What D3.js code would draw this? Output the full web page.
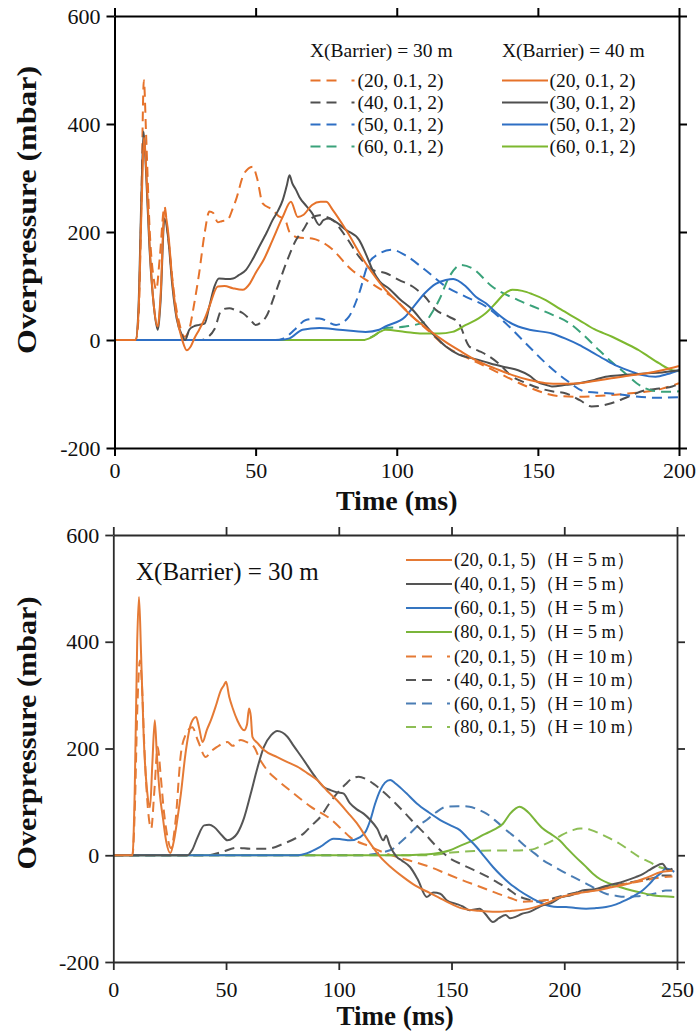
<!DOCTYPE html>
<html><head><meta charset="utf-8">
<script src="https://cdn.jsdelivr.net/npm/d3@7"></script>
<style>
body{margin:0;background:#fff}
svg{display:block}
text{font-family:"Liberation Serif","Times New Roman",serif;fill:#111}
</style>
</head><body>
<svg id="c" width="698" height="1035"></svg>
<script>
// ---------------- DATA ----------------
const yTicks = [-200, 0, 200, 400, 600];
const xTicksTop = [0, 50, 100, 150, 200];
const xTicksBot = [0, 50, 100, 150, 200, 250];
const yTitle = "Overpressure (mbar)";
const xTitle = "Time (ms)";

// Top panel: X(Barrier) = 30 m (dashed)
const top30_20 = [[0,0],[7.5,0],[8.5,40],[9.5,250],[10.4,481],[11.2,380],[12.5,200],[14,110],[14.8,93],[16,150],[17.7,247],[19,190],[21,90],[23,30],[24.8,6],[26.5,20],[28,60],[30,124],[32,200],[33.6,238],[35,235],[36.6,218],[38,220],[40,222],[42,245],[43,259],[46,309],[49,321],[50.5,300],[52.5,253],[56,241],[58,230],[60.5,222],[62,200],[65,190],[70,188],[76,173],[84,130],[91,105],[99.7,74],[105.6,43],[111,18],[117.4,-12],[123,-28],[129,-43],[135,-58],[141,-74],[147,-88],[152.8,-99],[158,-104],[164.6,-105],[170,-104],[176,-102],[182,-99],[188,-96],[194,-90],[200,-80]];
const top30_40 = [[0,0],[31,0],[33,5],[35.4,20],[38,56],[40.7,59],[43,55],[45.4,50],[48,38],[50,28],[52,33],[53.7,43],[57,87],[60.8,142],[64.3,185],[67,205],[69,222],[72.6,231],[75,228],[77.3,222],[82,191],[86.7,154],[91.4,130],[96,124],[100.9,111],[105.6,99],[110,80],[113.8,56],[118.6,43],[122,31],[125.7,-12],[129,-20],[132,-28],[136,-43],[141,-68],[145,-78],[150.4,-89],[155,-95],[160,-99],[165,-112],[169,-123],[172,-122],[176,-117],[182,-105],[188,-93],[193,-90],[197.6,-86],[200,-82]];
const top30_50 = [[0,0],[57,0],[60,3],[64,20],[67.8,37],[72.6,40],[78.5,28],[83,43],[86.7,87],[90,142],[93.8,160],[98.4,167],[103,157],[110,130],[117.4,99],[124.5,80],[131.6,62],[138.6,31],[145.7,-6],[152.8,-43],[160,-74],[167,-96],[176,-99],[185.8,-105],[192,-107],[200,-106]];
const top30_60 = [[0,0],[88,0],[92,8],[96,22],[103,25],[110,34],[113,55],[115,74],[118.6,117],[122.7,139],[126.7,133],[133.8,99],[143,74],[152.8,52],[162,28],[166,10],[171.7,-19],[176,-40],[181,-62],[185,-80],[190,-93],[195,-96],[200,-95]];
// Top panel: X(Barrier) = 40 m (solid)
const top40_20 = [[0,0],[7.5,0],[8.5,50],[9.5,230],[10.5,375],[11.3,310],[12.5,170],[14,60],[15.3,25],[16.3,80],[17.7,240],[19,200],[20.5,110],[22,45],[24,0],[25.6,-19],[27,-12],[28.5,5],[30,19],[32,40],[33.6,62],[36.6,99],[39,100],[41.9,96],[45.4,93],[48,105],[50,124],[53,150],[56,185],[59.6,228],[62.5,256],[64.9,228],[67,232],[70,250],[73,256],[75,256],[77.3,241],[82,204],[89,142],[96,93],[100,72],[105.6,43],[111,20],[117.4,-4],[123,-22],[129,-40],[135,-53],[141,-65],[147,-74],[152.8,-80],[158,-81],[164.6,-80],[170,-76],[176,-71],[182,-66],[188,-62],[194,-56],[200,-48]];
const top40_30 = [[0,0],[7.5,0],[8.5,60],[9.5,260],[10.3,386],[11.1,320],[12.3,180],[14,60],[15.3,19],[16.3,70],[17.7,225],[19,190],[20.5,100],[22,40],[24,8],[25,0],[26.5,19],[28,25],[30,28],[32,31],[33.5,60],[35.4,99],[37,114],[40,113],[42,114],[44,120],[46.6,130],[49,150],[51.3,173],[54,200],[56,222],[58,240],[59.6,259],[61,285],[62,305],[63,290],[64.3,278],[65.5,265],[68,248],[70,235],[72.6,213],[74,222],[76,225],[78,220],[82,204],[86.7,185],[89,160],[91.4,130],[94,108],[97.3,95],[101,76],[105.6,56],[109,35],[112.7,12],[117.4,-12],[122,-27],[126.8,-34],[131,-40],[135,-46],[139,-51],[143,-56],[147,-66],[150,-78],[152.8,-83],[155,-86],[160,-83],[164.6,-80],[170,-74],[174,-68],[180,-65],[188,-62],[194,-60],[200,-56]];
const top40_50 = [[0,0],[58,0],[62,3],[66.6,19],[72.6,22],[79.6,19],[89,15],[93.8,19],[96,25],[103,43],[106,62],[110,87],[113.8,104],[117.4,111],[120,113],[124.5,99],[128,80],[131.6,68],[135,52],[138.6,37],[143,25],[147,19],[155,12],[160,2],[164.6,-9],[169,-22],[174,-37],[178,-48],[183.4,-59],[187,-65],[191.7,-68],[196,-63],[200,-56]];
const top40_60 = [[0,0],[88,0],[91,5],[94,15],[96,19],[103,15],[109,12],[115,12],[119.7,15],[124.5,28],[129,40],[131.6,50],[135,68],[138,85],[141,93],[144.5,91],[148,85],[152.8,74],[158,57],[164.6,37],[170,20],[176.3,6],[181,-6],[185.8,-19],[189,-30],[192.9,-43],[197.6,-56],[200,-58]];

// Bottom panel: H = 5 m (solid), H = 10 m (dashed)
const bot5_20 = [[0,0],[8.5,0],[9.5,120],[10.6,400],[11.4,484],[12.3,380],[13.5,220],[15,120],[16.3,90],[17.3,170],[18.4,253],[19.3,190],[20.5,120],[22,70],[23.5,25],[25.3,4],[27,30],[28.5,70],[30,116],[32,190],[34.5,247],[36.7,259],[38,240],[39.6,212],[41.5,235],[43.3,253],[45.5,280],[47.7,309],[49,318],[50,325],[51.4,297],[53,275],[55,253],[58,234],[59.3,245],[60.2,275],[61,260],[61.7,222],[64,210],[66.8,197],[72.7,184],[77,175],[81.6,166],[86,154],[90.4,141],[95,120],[99.2,103],[104,80],[108,60],[113,28],[118.4,-3],[123,-22],[128.6,-41],[134,-57],[140.5,-71],[147,-85],[155,-100],[162,-104],[170,-106],[177,-104],[184.6,-100],[192,-90],[199,-78],[206,-71],[214,-66],[221,-60],[228.8,-53],[236,-43],[243.4,-31],[248,-29]];
const bot5_40 = [[0,0],[33,0],[35,10],[37.4,34],[40.3,56],[42.5,57],[44.7,53],[48,38],[50.6,28],[53,32],[55,41],[58,70],[61,116],[64,165],[66.8,203],[70,225],[72.7,233],[75,230],[77.2,222],[80,205],[84.5,178],[89,150],[93.3,128],[96.3,122],[99,118],[102,116],[105,97],[108,86],[111,78],[114,66],[117,50],[119.8,28],[121,37],[122.5,20],[125.7,-3],[128,-10],[131.6,-22],[135,-45],[139,-78],[142,-70],[145,-72],[148,-85],[152,-91],[155,-96],[158,-103],[162.5,-100],[165,-110],[168.4,-125],[171,-118],[174,-112],[176,-118],[178.6,-115],[181,-110],[184.6,-106],[187.5,-100],[190.5,-94],[194,-90],[199,-78],[203,-75],[208,-66],[214,-63],[218,-58],[223,-53],[227,-48],[231.7,-41],[235,-35],[237.6,-28],[240,-22],[243.5,-16],[246,-28],[248,-25]];
const bot5_60 = [[0,0],[82,0],[86,4],[91.9,16],[97.7,31],[101,30],[105,28],[109.5,34],[112,45],[114,66],[116,95],[118.4,122],[120.5,136],[122.8,141],[125,135],[127,128],[130,116],[134.6,97],[140,80],[145,66],[150,55],[153.7,47],[157,33],[161,16],[164.5,-2],[168.4,-22],[172,-38],[175.8,-53],[180,-66],[184.6,-78],[189,-88],[193.5,-95],[197,-97],[200.8,-97],[205,-99],[209.7,-100],[214,-99],[218.5,-97],[223,-92],[227.3,-84],[231,-76],[234.7,-66],[237.5,-55],[240.6,-41],[243,-33],[245,-25],[248.8,-31]];
const bot5_80 = [[0,0],[128,0],[135,1],[142,3],[149,9],[154,18],[159.6,28],[164,38],[168.4,47],[172.8,59],[176,78],[178.5,88],[180.2,91],[182.5,86],[184.6,78],[187,66],[190.5,50],[194,40],[197.9,28],[201.5,12],[205,-3],[209,-19],[212.6,-34],[216,-45],[220,-53],[225,-60],[230,-66],[235,-71],[239,-75],[244,-77],[248.8,-78]];
const bot10_20 = [[0,0],[8.5,0],[9.5,80],[10.7,280],[11.8,365],[12.7,320],[13.8,200],[15.3,90],[16.8,50],[18.2,120],[19.7,203],[21,150],[22.5,80],[24,35],[25.6,13],[27.5,60],[30,191],[32,225],[35,240],[37.5,215],[41,184],[43.5,195],[46,203],[50.6,212],[53,205],[56.5,216],[60,210],[62.4,203],[65,180],[68.3,159],[72.7,141],[80,116],[87.5,91],[96.3,68],[101,50],[105,34],[114,16],[120,5],[125.7,-3],[133,-12],[140.5,-22],[148,-35],[155,-47],[162,-58],[170,-71],[176,-80],[181.6,-87],[187,-86],[192,-84],[199,-78],[206.7,-71],[214,-65],[221,-59],[228,-53],[236,-47],[242,-42],[248,-40]];
const bot10_40 = [[0,0],[42,0],[48,6],[55,14],[61,12],[68,12],[75.7,22],[80,30],[84.5,41],[88,56],[91.9,72],[95.5,95],[99.2,116],[103,133],[106,144],[108.8,147],[112,143],[116,132],[120,118],[125,98],[130,76],[134,58],[138,41],[143,18],[149,-5],[155,-18],[160,-28],[165,-38],[170,-50],[175,-63],[179,-75],[184,-83],[188,-87],[193,-83],[199.3,-76],[205,-70],[211,-66],[217,-61],[223,-56],[229,-51],[234.7,-47],[240,-42],[243.5,-38],[248,-38]];
const bot10_60 = [[0,0],[110,0],[115,2],[120,6],[124,12],[127.5,25],[131.6,41],[135,55],[139,66],[143,80],[147.8,91],[153,92],[158,91],[161.5,86],[165.5,78],[170,63],[174.3,47],[179,31],[183,16],[187,3],[190.5,-9],[195,-20],[200.8,-34],[205,-43],[209.7,-53],[214,-63],[218.5,-72],[223,-76],[227.3,-78],[232,-77],[236.2,-75],[241,-71],[245,-66],[248.8,-66]];
const bot10_80 = [[0,0],[140,0],[150,5],[160,8],[170,9],[180,9],[186,11],[190,18],[195,28],[199,38],[203.8,47],[207,50],[209.7,50],[212,47],[215.5,41],[220,32],[224.4,22],[229,9],[233.2,-3],[238,-13],[242,-22],[246,-26],[248.8,-28]];

const topHead30 = "X(Barrier) = 30 m";
const topHead40 = "X(Barrier) = 40 m";
const topLabels30 = ["(20, 0.1, 2)", "(40, 0.1, 2)", "(50, 0.1, 2)", "(60, 0.1, 2)"];
const topLabels40 = ["(20, 0.1, 2)", "(30, 0.1, 2)", "(50, 0.1, 2)", "(60, 0.1, 2)"];
const botHead = "X(Barrier) = 30 m";
const botLabels = ["(20, 0.1, 5)（H = 5 m）","(40, 0.1, 5)（H = 5 m）","(60, 0.1, 5)（H = 5 m）","(80, 0.1, 5)（H = 5 m）",
                   "(20, 0.1, 5)（H = 10 m）","(40, 0.1, 5)（H = 10 m）","(60, 0.1, 5)（H = 10 m）","(80, 0.1, 5)（H = 10 m）"];

// ---------------- STYLE ----------------
const C = {orange:"#E6722A", gray:"#4F4F4F", blue:"#2E6FC4", teal:"#3AA27A", lime:"#7DB82F"};
const CB = {orange:"#E57A35", gray:"#555555", blue:"#3575C0", green:"#7AB53A", blueD:"#4A7DB4", greenD:"#8DBE55"};
const DASH = "10,6";
const LEG_DASH = "10,6,10,15,3,60";

const svg = d3.select("#c");
svg.append("rect").attr("width",698).attr("height",1035).attr("fill","#fff");

function panel(cfg){
  const x = d3.scaleLinear().domain(cfg.xd).range(cfg.xr);
  const y = d3.scaleLinear().domain([-200,600]).range(cfg.yr);
  const g = svg.append("g");
  const fmt = d => String(d);
  const line = d3.line().x(d=>x(d[0])).y(d=>y(d[1])).curve(d3.curveMonotoneX);
  cfg.series.forEach(s=>{
    g.append("path").attr("d", line(s.data)).attr("fill","none")
     .attr("stroke", s.color).attr("stroke-width", cfg.lw)
     .attr("stroke-dasharray", s.dashed ? DASH : null)
     .attr("stroke-linejoin","round");
  });
  const ax = (gen, tr, labels) => {
    const a = g.append("g").attr("transform", tr).call(gen);
    a.selectAll("path, line").attr("stroke", cfg.axisColor).attr("stroke-width", cfg.aw);
    a.selectAll("text").attr("font-size", cfg.tickFont).attr("fill","#111")
      .style("font-family",'"Liberation Serif","Times New Roman",serif');
    if(!labels) a.selectAll("text").remove();
    return a;
  };
  ax(d3.axisBottom(x).tickValues(cfg.xt).tickFormat(fmt).tickSize(8).tickSizeOuter(0).tickPadding(cfg.xpad), `translate(0,${cfg.yr[0]})`, true);
  ax(d3.axisTop(x).tickValues(cfg.xt).tickSize(8).tickSizeOuter(0), `translate(0,${cfg.yr[1]})`, false);
  ax(d3.axisLeft(y).tickValues(yTicks).tickFormat(fmt).tickSize(8).tickSizeOuter(0).tickPadding(6), `translate(${cfg.xr[0]},0)`, true);
  ax(d3.axisRight(y).tickValues(yTicks).tickSize(8).tickSizeOuter(0), `translate(${cfg.xr[1]},0)`, false);
  g.append("text").attr("transform", `translate(${cfg.ytx},${cfg.ytc}) rotate(-90)`)
    .attr("text-anchor","middle").attr("font-weight","bold").attr("font-size", cfg.titleFont)
    .attr("textLength", cfg.ytLen).attr("lengthAdjust","spacingAndGlyphs").text(yTitle);
  g.append("text").attr("x", (cfg.xr[0]+cfg.xr[1])/2).attr("y", cfg.xty)
    .attr("text-anchor","middle").attr("font-weight","bold").attr("font-size", cfg.titleFont).text(xTitle);
  return g;
}

function legendItem(g, x1, x2, yy, color, dashed, label, tx, fs){
  g.append("line").attr("x1",x1).attr("x2",x2).attr("y1",yy).attr("y2",yy)
   .attr("stroke",color).attr("stroke-width",2).attr("stroke-dasharray", dashed ? LEG_DASH : null);
  g.append("text").attr("x",tx).attr("y",yy).attr("dy","0.35em").attr("font-size",fs).text(label);
}

// ---------------- TOP PANEL ----------------
const gt = panel({
  xd:[0,200], xr:[114.5,679], yr:[448,16], xt:xTicksTop, lw:2, aw:2, axisColor:"#000",
  tickFont:22, xpad:6, titleFont:28, ytx:36, ytc:210, ytLen:288, xty:510,
  series:[
    {data:top30_20,color:C.orange,dashed:true},
    {data:top30_40,color:C.gray,dashed:true},
    {data:top30_50,color:C.blue,dashed:true},
    {data:top30_60,color:C.teal,dashed:true},
    {data:top40_60,color:C.lime,dashed:false},
    {data:top40_50,color:C.blue,dashed:false},
    {data:top40_30,color:C.gray,dashed:false},
    {data:top40_20,color:C.orange,dashed:false}
  ]
});
const topCols30 = [C.orange, C.gray, C.blue, C.teal];
const topCols40 = [C.orange, C.gray, C.blue, C.lime];
const rowsTop = [80.5, 102.5, 124.5, 146.5];
gt.append("text").attr("x",310).attr("y",57).attr("font-size",19.5).text(topHead30);
gt.append("text").attr("x",502).attr("y",57).attr("font-size",19.5).text(topHead40);
topLabels30.forEach((l,i)=>legendItem(gt,310.5,355,rowsTop[i],topCols30[i],true,l,357.5,19.5));
topLabels40.forEach((l,i)=>legendItem(gt,502,548,rowsTop[i],topCols40[i],false,l,549.5,19.5));

// ---------------- BOTTOM PANEL ----------------
const gb = panel({
  xd:[0,250], xr:[113.3,677], yr:[962,535], xt:xTicksBot, lw:2, aw:1.8, axisColor:"#2b2b2b",
  tickFont:22, xpad:11, titleFont:27, ytx:36, ytc:733, ytLen:273, xty:1025,
  series:[
    {data:bot10_80,color:CB.greenD,dashed:true},
    {data:bot10_60,color:CB.blueD,dashed:true},
    {data:bot10_40,color:CB.gray,dashed:true},
    {data:bot10_20,color:CB.orange,dashed:true},
    {data:bot5_80,color:CB.green,dashed:false},
    {data:bot5_60,color:CB.blue,dashed:false},
    {data:bot5_40,color:CB.gray,dashed:false},
    {data:bot5_20,color:CB.orange,dashed:false}
  ]
});
gb.append("text").attr("x",136).attr("y",580).attr("font-size",25).text(botHead);
const botCols = [CB.orange, CB.gray, CB.blue, CB.green, CB.orange, CB.gray, CB.blueD, CB.greenD];
const rowsBot = [560, 584, 608, 632, 656.5, 680, 703.5, 727];
botLabels.forEach((l,i)=>legendItem(gb,406,452,rowsBot[i],botCols[i],i>=4,l,454,18.5));
</script>
</body></html>
